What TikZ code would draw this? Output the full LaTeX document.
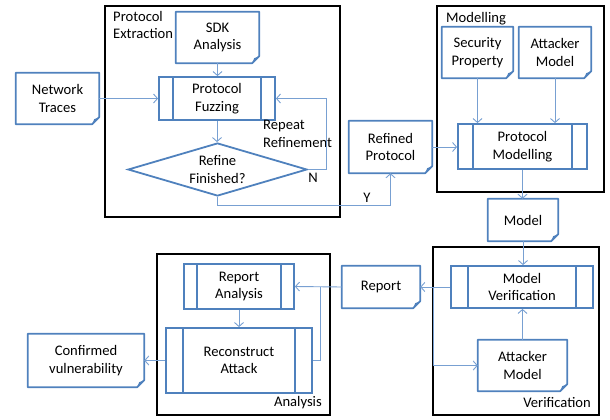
\documentclass[tikz,border=0pt]{standalone}
\usepackage{fontspec}
\setmainfont{Carlito}
\usetikzlibrary{shapes.geometric,arrows.meta}

\definecolor{shapeblue}{RGB}{79,129,189}
\definecolor{linkblue}{RGB}{120,160,210}

\tikzset{
  base/.style={inner sep=0pt, align=center,
    font=\fontsize{14.6pt}{17.5pt}\selectfont},
  docnode/.style={base, minimum width=#1},
  procnode/.style={base, draw=shapeblue, line width=1.8pt, minimum width=#1},
  decision/.style={base, draw=shapeblue, line width=1.8pt, shape=diamond,
    minimum width=179pt, minimum height=53pt, aspect=3.4},
  frame/.style={draw=black, line width=2pt, minimum width=#1},
  conn/.style={draw=linkblue, line width=0.9pt},
  arr/.style={conn, -{Straight Barb[length=4pt,width=9pt,line width=0.9pt]}},
  caption/.style={font=\fontsize{14.6pt}{17.5pt}\selectfont, inner sep=0pt},
}

% page outline with a folded lower-right corner
\newcommand\docoutline[1]{%
  \draw[shapeblue, line width=1.8pt, line join=round]
    (#1.north west) -- (#1.north east) -- ([yshift=7pt]#1.south east)
    -- ([xshift=-7pt]#1.south east) -- (#1.south west) -- cycle;
  \fill[shapeblue] ([yshift=7pt]#1.south east) -- ([xshift=-7pt]#1.south east)
    -- ([xshift=-5pt,yshift=5pt]#1.south east) -- cycle;}

% inner side bars of a predefined-process box
\newcommand\procbars[2]{%
  \draw[shapeblue, line width=1.8pt]
    ([xshift=#2pt]#1.north west) -- ([xshift=#2pt]#1.south west)
    ([xshift=-#2pt]#1.north east) -- ([xshift=-#2pt]#1.south east);}

\begin{document}
\begin{tikzpicture}[x=1pt, y=-1pt]
\useasboundingbox (0,0) rectangle (610,420);

% stage frames
\node[frame=235pt, minimum height=211pt] (fext) at (222.5,111.5) {};
\node[frame=167pt, minimum height=186pt] (fmod) at (520.5,99) {};
\node[frame=166pt, minimum height=168pt] (fver) at (516,331) {};
\node[frame=173pt, minimum height=161pt] (fana) at (243.5,334.5) {};

\node[caption, align=left, anchor=north west] (lext) at (113,11) {Protocol\\Extraction};
\node[caption, anchor=west] (lmod) at (446,19) {Modelling};
\node[caption, anchor=east] (lana) at (322,403) {Analysis};
\node[caption, anchor=east] (lver) at (591,403) {Verification};

% protocol extraction
\node[docnode=83pt, minimum height=51pt] (sdk) at (217.5,37.5) {SDK\\Analysis};
\docoutline{sdk}
\node[docnode=83pt, minimum height=51pt] (net) at (57.5,98.5) {Network\\Traces};
\docoutline{net}
\node[procnode=116pt, minimum height=43pt] (fuzz) at (217,98.5) {Protocol\\Fuzzing};
\procbars{fuzz}{15}
\node[decision] (refine) at (217.5,169.5) {Refine\\Finished?};
\node[caption, align=left, anchor=north west] (lrep) at (263,120) {Repeat\\Refinement};
\node[caption] (lno) at (313,178) {N};
\node[caption] (lyes) at (367,198) {Y};

\node[docnode=83pt, minimum height=52pt] (refined) at (390.5,147) {Refined\\Protocol};
\docoutline{refined}

% modelling
\node[docnode=71pt, minimum height=51pt] (secprop) at (477.5,52.5) {Security\\Property};
\docoutline{secprop}
\node[docnode=72pt, minimum height=51pt] (att1) at (555,52.5) {Attacker\\Model};
\docoutline{att1}
\node[procnode=129pt, minimum height=45pt] (pmod) at (522.5,146.5) {Protocol\\Modelling};
\procbars{pmod}{16}
\node[docnode=70pt, minimum height=42pt] (model) at (523,220) {Model};
\docoutline{model}

% verification
\node[procnode=142pt, minimum height=42pt] (mver) at (522,287) {Model\\Verification};
\procbars{mver}{18}
\node[docnode=89pt, minimum height=51pt] (att2) at (522.5,365.5) {Attacker\\Model};
\docoutline{att2}
\node[docnode=78pt, minimum height=42pt] (report) at (381,287) {Report};
\docoutline{report}

% analysis
\node[procnode=110pt, minimum height=45pt] (ranal) at (239,286.5) {Report\\Analysis};
\procbars{ranal}{14}
\node[procnode=146pt, minimum height=65pt] (recon) at (239,360.5) {Reconstruct\\Attack};
\procbars{recon}{18}
\node[docnode=116pt, minimum height=53pt] (conf) at (86,360.5) {Confirmed\\vulnerability};
\docoutline{conf}

% connectors
\draw[arr] (sdk.south) -- (sdk.south |- fuzz.north);
\draw[arr] (net.east) -- (fuzz.west);
\draw[arr] (fuzz.south) -- (fuzz.south |- refine.north);
\draw[arr] (refine.east) -- ++(19,0) |- (fuzz.east);
\draw[arr] (refine.south) -- ++(0,9) -| (refined.south);
\draw[arr] (refined.east) -- (refined.east -| pmod.west);
\draw[arr] (secprop.south) -- (secprop.south |- pmod.north);
\draw[arr] (att1.south) -- (att1.south |- pmod.north);
\draw[arr] (pmod.south) -- (pmod.south |- model.north);
\draw[arr] (model.south) -- (model.south |- mver.north);
\draw[arr] (att2.north) -- (att2.north |- mver.south);
\draw[arr] (mver.west) -- (report.east);
\coordinate (vsplit) at (433,287);
\draw[arr] (vsplit) |- (att2.west);
\draw[arr] (report.west) -- (ranal.east);
\coordinate (asplit) at (320,287);
\draw[conn] (asplit) |- (recon.east);
\draw[arr] (ranal.south) -- (recon.north);
\draw[arr] (recon.west) -- (recon.west -| conf.east);
\end{tikzpicture}
\end{document}
